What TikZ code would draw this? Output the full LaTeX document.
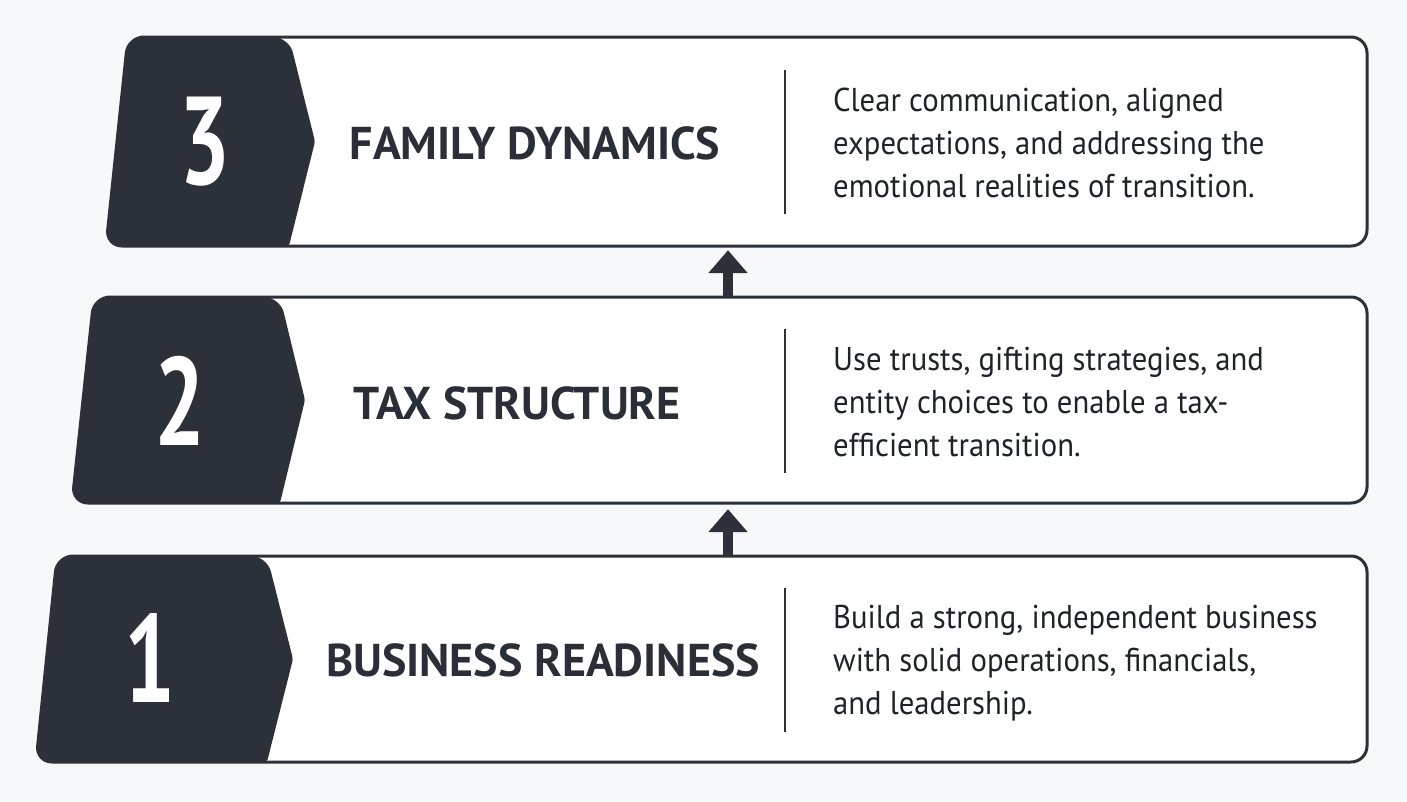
\documentclass[tikz,border=0pt]{standalone}
\usepackage{fontspec}
\setmainfont{PT Sans}
\newfontfamily\numfont[FakeStretch=0.72]{PT Sans}
\newfontfamily\titlefont{PT Sans}
\newfontfamily\descfont[FakeStretch=0.93]{PT Sans}
\usetikzlibrary{arrows.meta}
\definecolor{darkc}{HTML}{2B3039}
\definecolor{titlec}{HTML}{2A2E36}
\definecolor{descc}{HTML}{1F2329}
\definecolor{bgc}{HTML}{F7F8F9}
\tikzset{
  stagebox/.style={draw=darkc, line width=3pt, fill=white, rounded corners=16pt},
  darkpart/.style={fill=darkc},
  barnode/.style={inner sep=0pt, draw=none},
  numtext/.style={text=white, font=\numfont\bfseries\fontsize{125}{125}\selectfont, inner sep=0pt},
  titletext/.style={text=titlec, font=\titlefont\bfseries\fontsize{46}{50}\selectfont, inner sep=0pt},
  desctext/.style={text=descc, font=\descfont\fontsize{33}{43}\selectfont, inner sep=0pt, anchor=base west},
  divider/.style={draw=darkc, line width=2pt},
  uparrow/.style={draw=darkc, line width=10pt, -{Triangle[width=38pt,length=23pt]}}
}
\begin{document}
\begin{tikzpicture}[x=1pt,y=-1pt]
\fill[bgc] (0,0) rectangle (1407,801);
\useasboundingbox (0,0) rectangle (1407,801);

% bar nodes (invisible frames)
\node[barnode, minimum width=1261pt, minimum height=209pt] (b3) at (736.5,141.5) {};
\node[barnode, minimum width=1295pt, minimum height=206pt] (b2) at (719.5,400) {};
\node[barnode, minimum width=1331pt, minimum height=206pt] (b1) at (701.5,659) {};

% bar 3
\draw[stagebox] (128,37) -- (1367,37) -- (1367,246) -- (106,246) -- cycle;
\fill[darkpart] (117,141.5) [rounded corners=16pt] -- (128,37) -- (289,37) [rounded corners=3pt] -- (315,141.5) -- (289,246) [rounded corners=16pt] -- (106,246) -- cycle;
% bar 2
\draw[stagebox] (94,297) -- (1367,297) -- (1367,503) -- (72,503) -- cycle;
\fill[darkpart] (83,400) [rounded corners=16pt] -- (94,297) -- (280,297) [rounded corners=3pt] -- (305,400) -- (280,503) [rounded corners=16pt] -- (72,503) -- cycle;
% bar 1
\draw[stagebox] (57,556) -- (1367,556) -- (1367,762) -- (36,762) -- cycle;
\fill[darkpart] (46.5,659) [rounded corners=16pt] -- (57,556) -- (267,556) [rounded corners=3pt] -- (293,659) -- (267,762) [rounded corners=16pt] -- (36,762) -- cycle;

% numbers
\node[numtext] (n3) at (205.5,141.5) {3};
\node[numtext] (n2) at (180,401) {2};
\node[numtext] (n1) at (150,658) {1};

% titles
\node[titletext] (t3) at (535,143) {FAMILY DYNAMICS};
\node[titletext] (t2) at (517,403) {TAX STRUCTURE};
\node[titletext] (t1) at (543,660) {BUSINESS READINESS};

% dividers
\coordinate (d3a) at (785,70);  \coordinate (d3b) at (785,214);
\coordinate (d2a) at (785,329); \coordinate (d2b) at (785,473);
\coordinate (d1a) at (785,588); \coordinate (d1b) at (785,732);
\draw[divider] (d3a) -- (d3b);
\draw[divider] (d2a) -- (d2b);
\draw[divider] (d1a) -- (d1b);

% descriptions
\node[desctext] (x3) at (833,111) {\begin{tabular}[t]{@{}l@{}}Clear communication, aligned\\expectations, and addressing the\\emotional realities of transition.\end{tabular}};
\node[desctext] (x2) at (833,370) {\begin{tabular}[t]{@{}l@{}}Use trusts, gifting strategies, and\\entity choices to enable a tax-\\efficient transition.\end{tabular}};
\node[desctext] (x1) at (833,628) {\begin{tabular}[t]{@{}l@{}}Build a strong, independent business\\with solid operations, financials,\\and leadership.\end{tabular}};

% arrows
\coordinate (ax) at (728,0);
\draw[uparrow] (b2.north -| ax) -- ([yshift=-4pt]b3.south -| ax);
\draw[uparrow] (b1.north -| ax) -- ([yshift=-6pt]b2.south -| ax);
\end{tikzpicture}
\end{document}
